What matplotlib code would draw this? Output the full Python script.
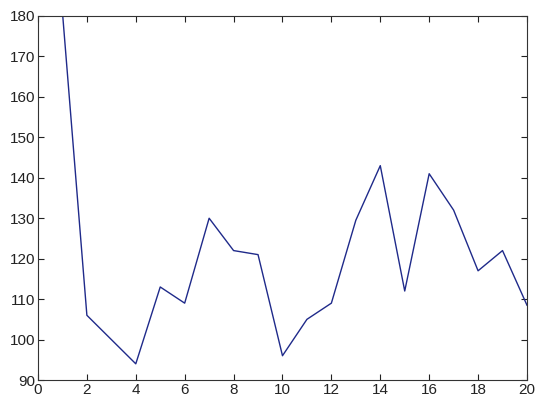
import matplotlib
matplotlib.use('Agg')
from matplotlib import pyplot as plt

x = list(range(1, 21))
y = [181, 106, 100, 94, 113, 109, 130, 122, 121, 96,
     105, 109, 129.5, 143, 112, 141, 132, 117, 122, 108.5]

xticks = [0, 2, 4, 6, 8, 10, 12, 14, 16, 18, 20]
yticks = [90, 100, 110, 120, 130, 140, 150, 160, 170, 180]

plt.rcParams['font.family'] = ['Liberation Sans', 'DejaVu Sans']

fig = plt.figure(figsize=(5.35, 4), dpi=100)
ax = fig.add_axes([0.071, 0.05, 0.914, 0.91])
ax.plot(x, y, color='#1f2a8a', linewidth=1.0)

ax.set_xlim(0, 20)
ax.set_ylim(90, 180)
ax.set_xticks(xticks)
ax.set_yticks(yticks)
ax.tick_params(direction='in', top=True, right=True, length=4, width=0.8,
               labelsize=11, colors='#222222', pad=2)
for s in ax.spines.values():
    s.set_color('#333333')
    s.set_linewidth(0.8)

fig.savefig('out.png', dpi=100)
